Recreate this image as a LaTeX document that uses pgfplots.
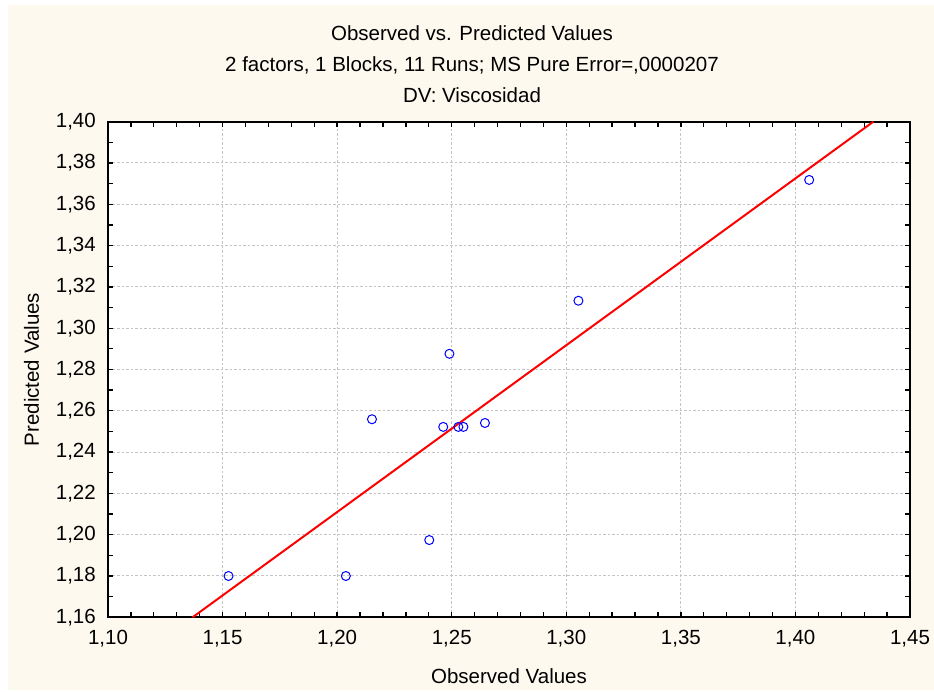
\documentclass[border=0pt]{standalone}
\usepackage{fontspec}
\setmainfont{Liberation Sans}
\usepackage{pgfplots}
\pgfplotsset{compat=1.18}
\definecolor{cream}{RGB}{253,249,238}
\definecolor{gridgray}{RGB}{196,196,196}
\newcommand{\lab}{\fontsize{20.5}{24}\selectfont}

\begin{document}
\begin{tikzpicture}
\useasboundingbox (0,0) rectangle (934pt,692pt);
\fill[white] (0,0) rectangle (934pt,692pt);
\fill[cream] (8pt,2pt) rectangle (934pt,687pt);

\node[font=\lab, anchor=base] at (472pt,651.7pt) {Observed vs. Predicted Values};
\node[font=\lab, anchor=base] at (472pt,620pt) {2 factors, 1 Blocks, 11 Runs; MS Pure Error=,0000207};
\node[font=\lab, anchor=base] at (472pt,589pt) {DV: Viscosidad};

\begin{axis}[
  at={(108pt,74.7pt)}, anchor=south west,
  scale only axis,
  width=802pt, height=495.6pt,
  xmin=1.10, xmax=1.45, ymin=1.16, ymax=1.40,
  xtick={1.10,1.15,1.20,1.25,1.30,1.35,1.40,1.45},
  ytick={1.16,1.18,1.20,1.22,1.24,1.26,1.28,1.30,1.32,1.34,1.36,1.38,1.40},
  minor x tick num=4,
  minor y tick num=1,
  tick align=inside,
  major tick length=5pt, minor tick length=5pt,
  every tick/.style={black, line width=1.3pt},
  axis line style={black, line width=2pt},
  axis background/.style={fill=white},
  grid=major,
  major grid style={gridgray, dash pattern=on 2.5pt off 2pt, line width=1pt},
  /pgf/number format/.cd, use comma, fixed, fixed zerofill, precision=2, assume math mode=true,
  /pgfplots/.cd,
  xticklabel style={font=\lab, anchor=base, inner sep=0pt, yshift=-27.4pt},
  yticklabel style={font=\lab, anchor=east, inner sep=0pt, xshift=-12pt},
  xlabel={Observed Values},
  ylabel={Predicted Values},
  xlabel style={font=\lab, at={(axis description cs:0.5,0)}, anchor=base, inner sep=0pt, yshift=-66.7pt},
  ylabel style={font=\lab, at={(axis description cs:0,0.5)}, anchor=base, inner sep=0pt, rotate=0, yshift=69pt},
]
\addplot[red, line width=2pt, no marks] coordinates {
  (1.1369,1.16) (1.4340,1.40)
};
\addplot[only marks, mark=o, mark size=4.5pt, blue, mark options={line width=1pt}] coordinates {
  (1.1526,1.1800)
  (1.2038,1.1800)
  (1.2152,1.2559)
  (1.2402,1.1974)
  (1.2463,1.2522)
  (1.2529,1.2522)
  (1.2551,1.2522)
  (1.2645,1.2541)
  (1.2490,1.2876)
  (1.3053,1.3133)
  (1.4060,1.3718)
};
\end{axis}
\end{tikzpicture}
\end{document}
